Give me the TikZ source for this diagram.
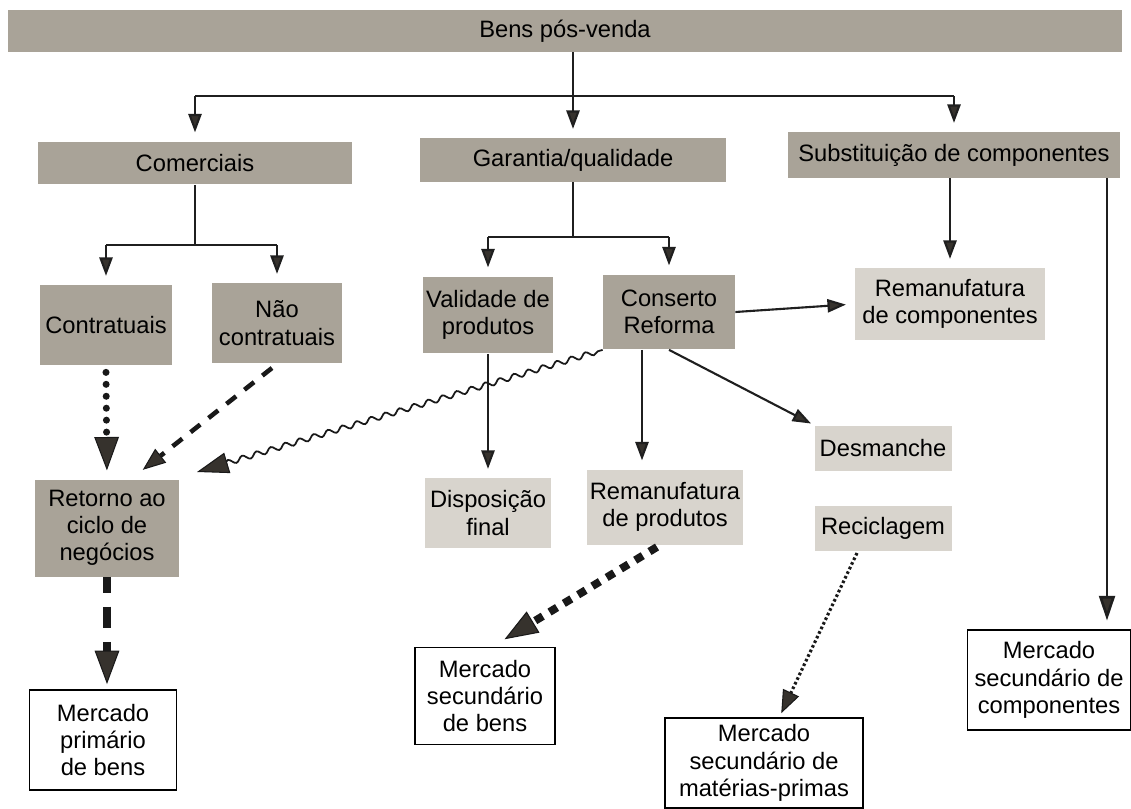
\documentclass[tikz,border=0pt]{standalone}
\usepackage{fontspec}
\setmainfont{Liberation Sans}
\usetikzlibrary{arrows.meta,decorations.pathmorphing,calc}
\definecolor{boxdark}{HTML}{A9A398}
\definecolor{boxlight}{HTML}{D8D4CD}
\definecolor{tipgray}{HTML}{36322D}
\begin{document}
\begin{tikzpicture}[x=0.02cm,y=-0.02cm,font=\fontsize{13.5}{15.5}\selectfont,
  box/.style={inner sep=0pt,align=center,text=black},
  dk/.style={box,fill=boxdark},
  lt/.style={box,fill=boxlight},
  mk/.style={box,draw=black,line width=0.8pt,fill=white,font=\fontsize{13.5}{15.5}\selectfont},
  ln/.style={line width=1.2pt,draw=black!88},
  arr/.style={ln,-{Triangle[length=10.5pt,width=7.5pt,fill=tipgray]},shorten >=5pt},
  bigtip/.style={-{Triangle[length=19pt,width=14pt,fill=tipgray,line width=0.6pt]}},
  dotarr/.style={draw=black!90,line width=4pt,line cap=round,dash pattern=on 0pt off 6.8pt,bigtip,shorten >=5pt},
  dasharr/.style={draw=black!90,line width=2.6pt,dash pattern=on 7pt off 6pt,-{Triangle[length=13pt,width=10pt,fill=tipgray,line width=0.6pt]},shorten >=2pt},
  bigdash/.style={draw=black!90,line width=4pt,dash pattern=on 9pt off 8pt on 12pt off 8pt,bigtip,shorten >=3pt},
  sqdash/.style={draw=black!90,line width=4.5pt,dash pattern=on 5pt off 4.5pt,bigtip,shorten >=3pt},
  fine/.style={draw=black!90,line width=1.8pt,dash pattern=on 1.5pt off 1.4pt,-{Triangle[length=13pt,width=10pt,fill=tipgray,line width=0.6pt]},shorten >=3pt},
  wavy/.style={draw=black!90,line width=1pt,decorate,decoration={snake,amplitude=1.5pt,segment length=8.5pt,pre length=3pt,post length=16pt},-{Triangle[length=18pt,width=12pt,fill=tipgray,line width=0.6pt]}}
]
\useasboundingbox (0,0) rectangle (1131,808);
\fill[white] (0,0) rectangle (1131,808);

% nodes
\node[dk,minimum width=22.28cm,minimum height=0.84cm] (top) at (565,31) {Bens pós-venda};
\node[dk,minimum width=6.3cm,minimum height=0.86cm] (com) at (195,163) {Comerciais};
\node[dk,minimum width=6.14cm,minimum height=0.88cm] (gar) at (573,160) {Garantia/qualidade};
\node[dk,minimum width=6.64cm,minimum height=0.92cm] (sub) at (954,155) {Substituição de componentes};
\node[dk,minimum width=2.64cm,minimum height=1.6cm] (con) at (106,325) {Contratuais};
\node[dk,minimum width=2.6cm,minimum height=1.6cm] (nao) at (277,323) {Não\\contratuais};
\node[dk,minimum width=2.6cm,minimum height=1.54cm] (val) at (488,315) {Validade de\\produtos};
\node[dk,minimum width=2.64cm,minimum height=1.5cm] (cons) at (669,312) {Conserto\\Reforma};
\node[lt,minimum width=3.8cm,minimum height=1.44cm] (remc) at (950,304) {Remanufatura\\de componentes};
\node[lt,minimum width=2.54cm,minimum height=1.4cm] (disp) at (488,513) {Disposição\\final};
\node[lt,minimum width=3.12cm,minimum height=1.5cm] (remp) at (665,507) {Remanufatura\\de produtos};
\node[lt,minimum width=2.74cm,minimum height=0.9cm] (desm) at (883,448) {Desmanche};
\node[lt,minimum width=2.74cm,minimum height=0.9cm] (recic) at (883,528) {Reciclagem};
\node[dk,minimum width=2.9cm,minimum height=1.94cm] (ret) at (107,528) {Retorno ao\\ciclo de\\negócios};
\node[mk,minimum width=2.94cm,minimum height=2.0cm] (mprim) at (103,740) {Mercado\\primário\\de bens};
\node[mk,minimum width=2.8cm,minimum height=1.94cm] (mbens) at (485,696) {Mercado\\secundário\\de bens};
\node[mk,minimum width=3.96cm,minimum height=1.8cm] (mmp) at (764,763) {Mercado\\secundário de\\matérias-primas};
\node[mk,minimum width=3.26cm,minimum height=2.0cm] (mcomp) at (1049,680) {Mercado\\secundário de\\componentes};

% coordinates
\coordinate (h1) at (0,96);
\coordinate (h2) at (0,245);
\coordinate (h3) at (0,237);
\coordinate (s1) at (1107,0);
\coordinate (c1) at (642,0);
\coordinate (wtip) at (197,472);
\coordinate (ntip) at (140,472);
\coordinate (nstart) at (272,368);
\coordinate (bstart) at (657,547);
\coordinate (btip) at (500,642);
\coordinate (rstart) at (857,553);
\coordinate (rtip) at (779,718);

% level 1
\draw[ln] (com.north |- h1) -- (sub.north |- h1);
\draw[arr] (com.north |- h1) -- (com.north);
\draw[arr] (top.south -| gar.north) -- (gar.north);
\draw[arr] (sub.north |- h1) -- (sub.north);

% comerciais
\draw[ln] (com.south) -- (com.south |- h2);
\draw[ln] (con.north |- h2) -- (nao.north |- h2);
\draw[arr] (con.north |- h2) -- (con.north);
\draw[arr] (nao.north |- h2) -- (nao.north);

% garantia
\draw[ln] (gar.south) -- (gar.south |- h3);
\draw[ln] (val.north |- h3) -- (cons.north |- h3);
\draw[arr] (val.north |- h3) -- (val.north);
\draw[arr] (cons.north |- h3) -- (cons.north);

% substituicao
\draw[arr] (sub.south -| remc.north) -- (remc.north);
\draw[arr,line width=1.5pt,-{Triangle[length=14pt,width=9pt,fill=tipgray]}] (sub.south -| s1) -- (s1 |- mcomp.north);

% conserto
\draw[arr] (cons.east) -- (remc.west);
\draw[arr] (val.south) -- (disp.north);
\draw[arr] (c1 |- cons.south) -- (c1 |- remp.north);
\draw[arr,shorten >=2pt] (cons.south) -- (desm.north west);
\draw[wavy] (cons.south west) -- (wtip);

% retorno
\draw[dotarr] ([yshift=-4pt]con.south) -- (ret.north);
\draw[dasharr] (nstart) -- (ntip);
\draw[bigdash] (ret.south) -- (ret.south |- mprim.north);

% mercados
\draw[sqdash] (bstart) -- (btip);
\draw[fine] (rstart) -- (rtip);
\end{tikzpicture}
\end{document}
